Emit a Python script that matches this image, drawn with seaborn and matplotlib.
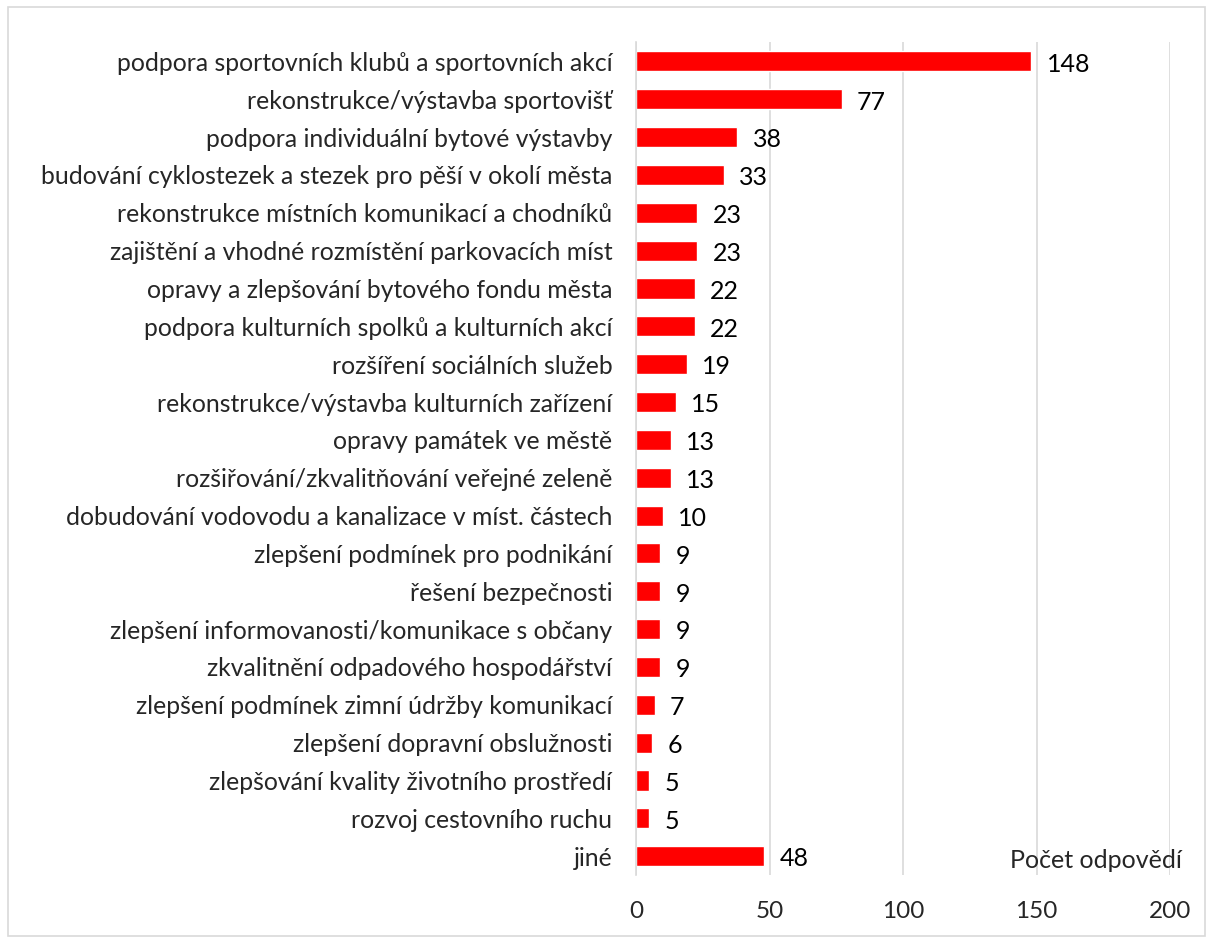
import matplotlib
matplotlib.use("Agg")
import matplotlib.pyplot as plt
import seaborn as sns
import pandas as pd

categories = [
    "podpora sportovních klubů a sportovních akcí",
    "rekonstrukce/výstavba sportovišť",
    "podpora individuální bytové výstavby",
    "budování cyklostezek a stezek pro pěší v okolí města",
    "rekonstrukce místních komunikací a chodníků",
    "zajištění a vhodné rozmístění parkovacích míst",
    "opravy a zlepšování bytového fondu města",
    "podpora kulturních spolků a kulturních akcí",
    "rozšíření sociálních služeb",
    "rekonstrukce/výstavba kulturních zařízení",
    "opravy památek ve městě",
    "rozšiřování/zkvalitňování veřejné zeleně",
    "dobudování vodovodu a kanalizace v míst. částech",
    "zlepšení podmínek pro podnikání",
    "řešení bezpečnosti",
    "zlepšení informovanosti/komunikace s občany",
    "zkvalitnění odpadového hospodářství",
    "zlepšení podmínek zimní údržby komunikací",
    "zlepšení dopravní obslužnosti",
    "zlepšování kvality životního prostředí",
    "rozvoj cestovního ruchu",
    "jiné",
]
values = [148, 77, 38, 33, 23, 23, 22, 22, 19, 15, 13, 13, 10, 9, 9, 9, 9, 7, 6, 5, 5, 48]
x_ticks = [0, 50, 100, 150, 200]
axis_title = "Počet odpovědí"

df = pd.DataFrame({"kategorie": categories, "pocet": values})

sns.set_style("white")
plt.rcParams["font.family"] = ["Lato", "DejaVu Sans"]

fig = plt.figure(figsize=(12.09, 9.44), dpi=100)
ax = fig.add_axes([0.526, 0.073, 0.442, 0.882])

sns.barplot(data=df, y="kategorie", x="pocet", orient="h", color="#ff0000",
            saturation=1, width=0.53, ax=ax)

ax.set_xlim(0, 200)
ax.set_ylim(len(categories) - 0.5, -0.5)
ax.set_xticks(x_ticks)
ax.set_xticklabels([str(t) for t in x_ticks], fontsize=17.5)
ax.tick_params(axis="x", length=0, pad=19)
ax.tick_params(axis="y", length=0, pad=17, labelsize=17.8)
ax.set_xlabel("")
ax.set_ylabel("")
ax.xaxis.grid(True, color="#d9d9d9", linewidth=1.2)
ax.set_axisbelow(True)
for s in ["top", "right", "bottom"]:
    ax.spines[s].set_visible(False)
ax.spines["left"].set_color("#d9d9d9")
ax.spines["left"].set_linewidth(1.2)

for i, v in enumerate(values):
    ax.annotate(str(v), xy=(v, i), xytext=(11, -2), textcoords="offset points",
                va="center", ha="left", fontsize=18, color="black")

ax.text(1.022, 0.018, axis_title, transform=ax.transAxes, ha="right", va="center",
        fontsize=18)

border = plt.Rectangle((0.007, 0.008), 0.99, 0.985, transform=fig.transFigure,
                       fill=False, edgecolor="#d9d9d9", linewidth=1.2)
fig.patches.append(border)

fig.savefig("out.png", dpi=100, facecolor="white")
